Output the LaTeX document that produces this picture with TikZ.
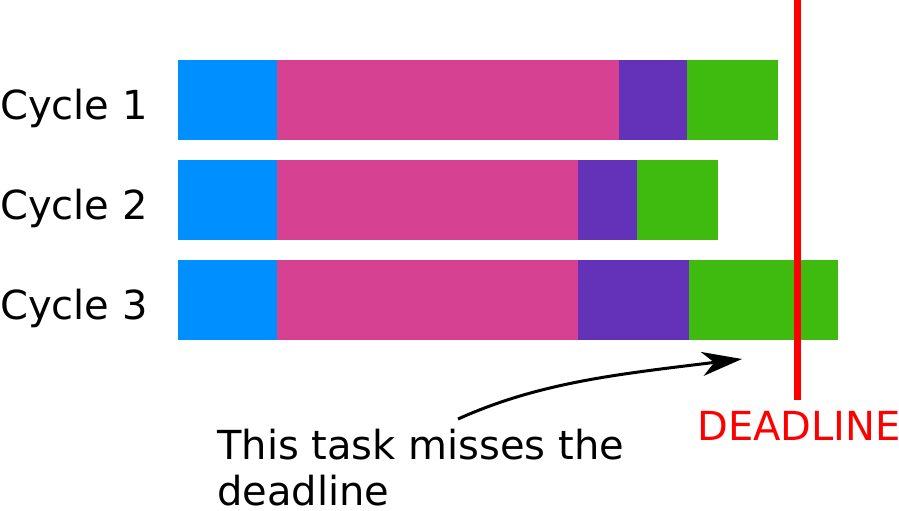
\documentclass[tikz,border=0pt]{standalone}
\usepackage{fontspec}
\setmainfont{DejaVu Sans}
\usetikzlibrary{arrows.meta}
\definecolor{cblue}{RGB}{0,143,255}
\definecolor{cpink}{RGB}{215,65,145}
\definecolor{cpurple}{RGB}{100,50,185}
\definecolor{cgreen}{RGB}{63,186,15}
\definecolor{cred}{RGB}{255,0,0}
\begin{document}
\begin{tikzpicture}[x=1pt,y=-1pt,
  seg/.style={draw=none,inner sep=0pt,outer sep=0pt,anchor=north west,minimum height=80pt},
  lbl/.style={inner sep=0pt,anchor=base west,font=\fontsize{40}{46.6}\selectfont}]
\useasboundingbox (0,0) rectangle (899,511);
% Cycle 1
\node[seg,fill=cblue,minimum width=99pt] (c1a) at (178,60) {};
\node[seg,fill=cpink,minimum width=342pt] (c1b) at (277,60) {};
\node[seg,fill=cpurple,minimum width=68pt] (c1c) at (619,60) {};
\node[seg,fill=cgreen,minimum width=91pt] (c1d) at (687,60) {};
% Cycle 2
\node[seg,fill=cblue,minimum width=99pt] (c2a) at (178,160) {};
\node[seg,fill=cpink,minimum width=301pt] (c2b) at (277,160) {};
\node[seg,fill=cpurple,minimum width=59pt] (c2c) at (578,160) {};
\node[seg,fill=cgreen,minimum width=81pt] (c2d) at (637,160) {};
% Cycle 3
\node[seg,fill=cblue,minimum width=99pt] (c3a) at (178,260) {};
\node[seg,fill=cpink,minimum width=301pt] (c3b) at (277,260) {};
\node[seg,fill=cpurple,minimum width=111pt] (c3c) at (578,260) {};
\node[seg,fill=cgreen,minimum width=149pt] (c3d) at (689,260) {};
% labels
\node[lbl] (l1) at (0,119) {Cycle 1};
\node[lbl] (l2) at (0,219) {Cycle 2};
\node[lbl] (l3) at (0,319) {Cycle 3};
% deadline
\coordinate (dtop) at (797.5,0);
\coordinate (dbot) at (797.5,400);
\draw[cred,line width=7pt] (dtop) -- (dbot);
\node[lbl,text=cred] (dl) at (697,440) {DEADLINE};
% note
\node[lbl] (note) at (217,459) {This task misses the};
\node[lbl] (note2) at (217,505) {deadline};
\coordinate (as) at (458,419);
\coordinate (ae) at (742,359);
\draw[line width=3pt,-{Stealth[length=40pt,width=24pt,inset=12pt]}]
  (as) .. controls (540,382) and (620,374) .. (ae);
\end{tikzpicture}
\end{document}
